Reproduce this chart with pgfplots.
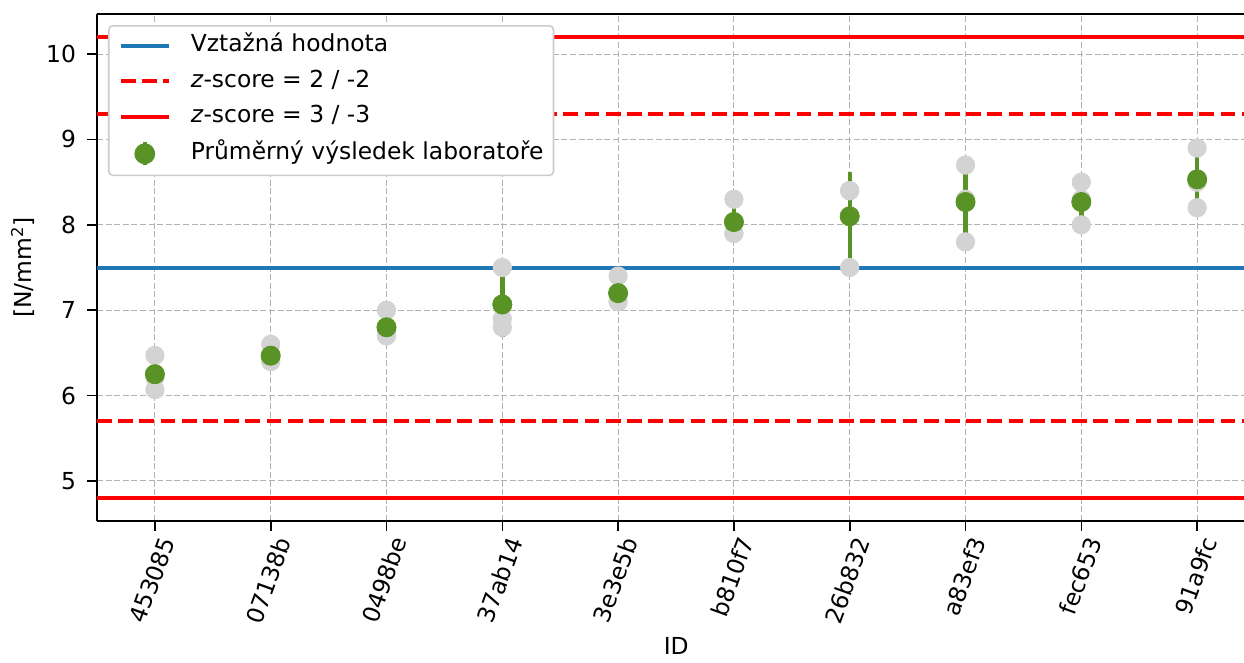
\documentclass[border=0pt]{standalone}
\usepackage{fontspec}
\setmainfont{DejaVu Sans}
\usepackage{pgfplots}
\usepackage{pgfplotstable}
\pgfplotsset{compat=1.18}
\definecolor{mplblue}{HTML}{1F77B4}
\definecolor{labgreen}{RGB}{89,147,37}
\definecolor{ltgray}{HTML}{D3D3D3}
\newcommand{\fsz}{\fontsize{11.7}{14}\selectfont}

% mean of the lab results and their standard deviation
\pgfplotstableread{
x y e
0 6.250 0.200
1 6.467 0.115
2 6.800 0.173
3 7.067 0.379
4 7.200 0.173
5 8.033 0.231
6 8.100 0.520
7 8.267 0.451
8 8.267 0.252
9 8.533 0.351
}\means

% single results
\pgfplotstableread{
x y
0 6.47
0 6.07
0 6.21
1 6.60
1 6.40
1 6.40
2 7.00
2 6.70
2 6.70
3 7.50
3 6.90
3 6.80
4 7.40
4 7.10
4 7.10
5 8.30
5 7.90
5 7.90
6 8.40
6 7.50
6 8.40
7 8.70
7 8.30
7 7.80
8 8.50
8 8.30
8 8.00
9 8.90
9 8.50
9 8.20
}\results

\begin{document}
\begin{tikzpicture}
\begin{axis}[
  scale only axis, width=573.5pt, height=253.5pt,
  xmin=-0.5, xmax=9.405, ymin=4.53, ymax=10.47,
  axis x line*=box, axis y line*=left,
  axis line style={line width=0.8pt},
  xtick pos=left, ytick pos=left,
  tick align=outside, major tick length=5pt,
  tick style={black, line width=0.8pt},
  tick label style={font=\fsz},
  label style={font=\fsz},
  xtick={0,...,9},
  xticklabels={453085,07138b,0498be,37ab14,3e3e5b,b810f7,26b832,a83ef3,fec653,91a9fc},
  xticklabel style={rotate=70, anchor=north east},
  xticklabel shift=-2.5pt,
  ytick={5,6,7,8,9,10},
  yticklabel shift=2pt,
  /pgf/number format/assume math mode=true,
  grid=major,
  major grid style={black!30, line width=0.5pt, dash pattern=on 3pt off 1.3pt},
  xlabel={ID}, ylabel={[N/mm\textsuperscript{2}]},
  xlabel style={at={(axis description cs:0.505,-0.247)}, anchor=center},
  ylabel style={at={(axis description cs:-0.0645,0.5)}, anchor=center},
  legend style={at={(axis description cs:0,1)}, anchor=north west,
    xshift=5.5pt, yshift=-5.5pt, draw=black!20, line width=0.8pt,
    rounded corners=2pt, fill=white, inner xsep=5pt, inner ysep=4pt,
    row sep=5.75pt, column sep=10pt, font=\fsz,
    nodes={inner sep=0pt, text height=9pt, text depth=3pt}},
  legend cell align=left,
  legend image code/.code={\draw[#1] (0pt,0pt) -- (24pt,0pt);},
]
\addplot[mplblue, line width=2pt] coordinates {(-0.5,7.5) (9.5,7.5)};
\addlegendentry{Vztažná hodnota}
\addplot[red, line width=2pt, dash pattern=on 7.4pt off 3.2pt] coordinates {(-0.5,9.3) (9.5,9.3)};
\addlegendentry{\textit{z}-score = 2 / -2}
\addplot[red, line width=2pt, dash pattern=on 7.4pt off 3.2pt, forget plot] coordinates {(-0.5,5.7) (9.5,5.7)};
\addplot[red, line width=2pt] coordinates {(-0.5,10.2) (9.5,10.2)};
\addlegendentry{\textit{z}-score = 3 / -3}
\addplot[red, line width=2pt, forget plot] coordinates {(-0.5,4.8) (9.5,4.8)};
\addplot[only marks, mark=*, mark size=4.6pt, color=ltgray,
  mark options={draw=ltgray, fill=ltgray}, forget plot] table[x=x, y=y] {\results};
\addplot[only marks, mark=*, mark size=4.8pt, color=labgreen,
  mark options={draw=labgreen, fill=labgreen},
  legend image code/.code={
    \draw[labgreen, line width=2pt] (12pt,-5.75pt) -- (12pt,5.75pt);
    \fill[labgreen] (12pt,0pt) circle (4.8pt);},
  error bars/.cd, y dir=both, y explicit, error mark=none,
  error bar style={line width=2.2pt, labgreen}]
  table[x=x, y=y, y error=e] {\means};
\addlegendentry{Průměrný výsledek laboratoře}
\end{axis}
\pgfresetboundingbox
\path[use as bounding box] ([xshift=-48.5pt, yshift=7pt]current axis.north west)
  rectangle ([yshift=-70.5pt]current axis.south east);
\end{tikzpicture}
\end{document}
